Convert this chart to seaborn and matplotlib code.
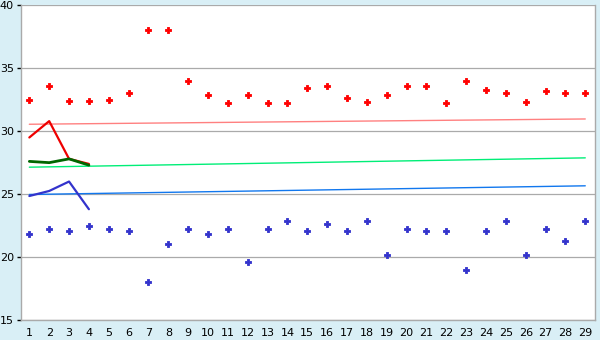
import matplotlib
matplotlib.use("Agg")
import matplotlib.pyplot as plt
import seaborn as sns
import pandas as pd

days = list(range(1, 30))
high_pts = [32.5, 33.6, 32.4, 32.4, 32.5, 33.0, 38.0, 38.0, 34.0, 32.9,
            32.2, 32.9, 32.2, 32.2, 33.4, 33.6, 32.6, 32.3, 32.9, 33.6,
            33.6, 32.2, 34.0, 33.3, 33.0, 32.3, 33.2, 33.0, 33.0]
low_pts = [21.8, 22.2, 22.1, 22.5, 22.2, 22.1, 18.0, 21.0, 22.2, 21.8,
           22.2, 19.6, 22.2, 22.9, 22.1, 22.6, 22.1, 22.9, 20.2, 22.2,
           22.1, 22.1, 19.0, 22.1, 22.9, 20.2, 22.2, 21.3, 22.9]
line_days = [1, 2, 3, 4]
high_line = [29.5, 30.8, 27.8, 27.4]
mean_line = [27.6, 27.5, 27.8, 27.3]
low_line = [24.85, 25.25, 26.0, 23.8]
trend_days = [1, 29]
high_trend = [30.55, 30.97]
mean_trend = [27.14, 27.88]
low_trend = [24.97, 25.66]
y_ticks = [15, 20, 25, 30, 35, 40]

sns.set_theme(style="white")
plt.rcParams['font.family'] = ['DejaVu Sans']

fig = plt.figure(figsize=(6, 3.4), dpi=100)
fig.patch.set_facecolor('#d9eff6')
ax = fig.add_axes([20.7 / 600, 1 - 320 / 340, (595 - 20.7) / 600, (320 - 5.3) / 340])
ax.set_facecolor('white')

sns.lineplot(x=trend_days, y=high_trend, color='#ff8080', lw=1.0, ax=ax)
sns.lineplot(x=trend_days, y=mean_trend, color='#00ee77', lw=1.0, ax=ax)
sns.lineplot(x=trend_days, y=low_trend, color='#1177ee', lw=1.0, ax=ax)

sns.lineplot(x=line_days, y=high_line, color='#ee0000', lw=1.6, ax=ax)
sns.lineplot(x=line_days, y=low_line, color='#3333cc', lw=1.6, ax=ax)
sns.lineplot(x=line_days, y=mean_line, color='#006600', lw=2.0, ax=ax)

sns.scatterplot(x=days, y=high_pts, color='#ff0000', marker='P', s=18,
                linewidth=0.6, edgecolor='#ff0000', ax=ax)
sns.scatterplot(x=days, y=low_pts, color='#3333cc', marker='P', s=18,
                linewidth=0.6, edgecolor='#3333cc', ax=ax)

ax.set_xlim(0.565, 29.49)
ax.set_ylim(15, 40)
ax.set_xticks(days)
ax.set_xticklabels([str(d) for d in days])
ax.set_yticks(y_ticks)
ax.set_yticklabels([str(v) for v in y_ticks])
ax.yaxis.grid(True, color='#aaaaaa', lw=0.9)
ax.xaxis.grid(False)
ax.set_axisbelow(True)
for side in ['left', 'bottom', 'right']:
    ax.spines[side].set_visible(True)
    ax.spines[side].set_color('#aaaaaa')
    ax.spines[side].set_linewidth(1.0)
ax.spines['top'].set_visible(False)
ax.tick_params(axis='both', which='both', length=4, width=1, color='black',
               labelsize=8, labelcolor='black', pad=2, direction='out')
ax.tick_params(axis='y', left=True, length=3)
ax.set_xlabel('')
ax.set_ylabel('')

fig.savefig('out.png', dpi=100, facecolor=fig.get_facecolor())
